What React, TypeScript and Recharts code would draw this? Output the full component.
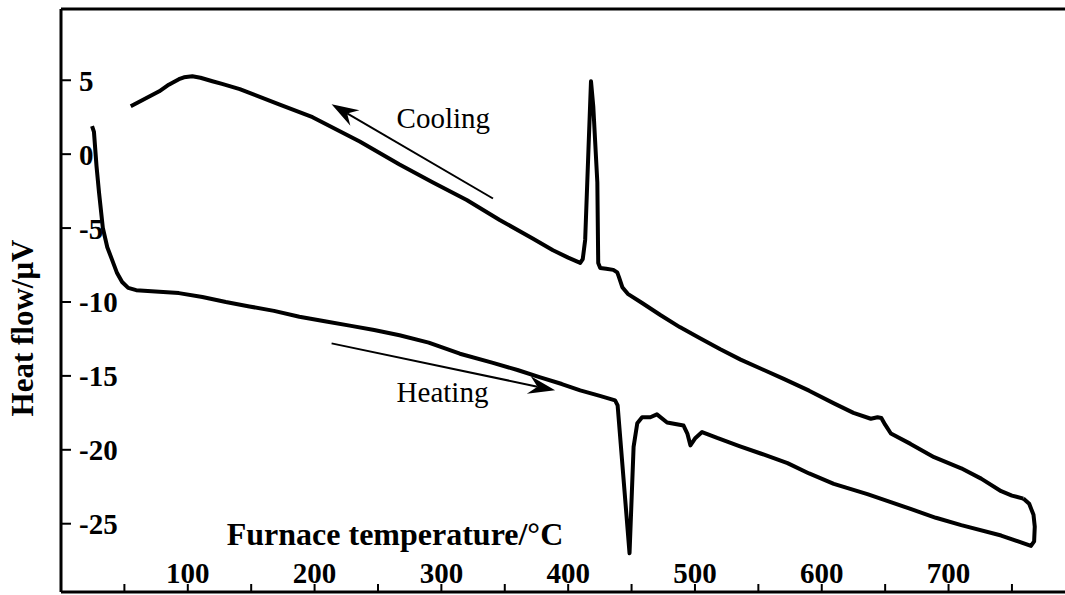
import { LineChart, Line, XAxis, YAxis, ReferenceLine, ReferenceDot, Label } from "recharts";

// heating run: [furnace temperature °C, heat flow µV]
const heating: [number, number][] = [
  [24.5, 1.9], [26, 1.5], [28, -0.8], [30, -2.6], [33, -5.0], [36.5, -6.3],
  [40.3, -7.15], [44, -8.0], [48.2, -8.65], [53, -9.05], [59.3, -9.2], [77.5, -9.3],
  [93, -9.4], [111.5, -9.66], [130, -10.0], [148.6, -10.3], [168, -10.6], [188, -11.0],
  [208, -11.3], [227.7, -11.6], [247, -11.9], [267, -12.25], [290, -12.75], [314.6, -13.5],
  [340, -14.1], [360, -14.6], [378, -15.1], [395, -15.55], [409.5, -15.98], [425, -16.35],
  [437, -16.66], [439, -17.0], [448.4, -27.0], [451.6, -19.8], [454.5, -18.2], [458.3, -17.8],
  [464.8, -17.8], [470, -17.6], [478, -18.15], [491, -18.36], [494, -18.9], [496.4, -19.7],
  [500.4, -19.2], [505.6, -18.8], [517.5, -19.2], [535, -19.75], [551.8, -20.25], [573, -20.9],
  [590, -21.6], [609.5, -22.3], [636, -23.0], [655, -23.55], [670, -24.0], [690, -24.6],
  [710, -25.1], [741.5, -25.8], [765, -26.5], [767.5, -26.2], [768, -25.2], [767, -24.4],
  [763.6, -23.65], [759, -23.3],
];

// cooling run, in the order it was recorded (hot to cold)
const cooling: [number, number][] = [
  [759, -23.3], [750, -23.1], [741.5, -22.8], [725.7, -21.95], [710, -21.25], [688.6, -20.5],
  [670, -19.6], [654.5, -18.9], [650, -18.3], [647, -17.85], [644, -17.8], [638.7, -17.9],
  [625, -17.5], [609.6, -16.86], [590, -16.0], [570, -15.2], [553, -14.55], [536, -13.9],
  [520, -13.2], [504, -12.45], [488, -11.7], [473, -10.9], [458, -10.05], [447, -9.45],
  [442.7, -9.0], [440, -8.3], [438.7, -8.0], [435.6, -7.83], [430, -7.75], [425.3, -7.7],
  [423.7, -7.36], [423, -1.9], [419.8, 3.23], [418, 4.93], [416, 0.3], [413.4, -5.8],
  [411.5, -7.1], [409.5, -7.36], [400, -7.0], [388, -6.5], [372, -5.7], [346, -4.45],
  [320, -3.1], [293, -1.9], [267, -0.7], [235.6, 0.86], [198.4, 2.5], [172, 3.37],
  [141, 4.4], [127, 4.75], [119.4, 4.93], [110, 5.17], [103.6, 5.27], [97, 5.2],
  [93, 5.07], [85, 4.7], [77.5, 4.25], [55, 3.24],
];

const xTicks = [0, 50, 100, 150, 200, 250, 300, 350, 400, 450, 500, 550, 600, 650, 700, 750];
const xLabels = [100, 200, 300, 400, 500, 600, 700];
const yTicks = [-25, -20, -15, -10, -5, 0, 5];

// annotation arrows: [tail, head]
const coolingArrow = [{ x: 340.7, y: -3.0 }, { x: 213.4, y: 3.37 }];
const heatingArrow = [{ x: 213.4, y: -12.8 }, { x: 389.7, y: -15.98 }];

const serif = '"Liberation Serif", "Times New Roman", serif';
const xDomain: [number, number] = [0, 795];
const yDomain: [number, number] = [-29.62, 9.82];

const toRows = (pts: [number, number][]) => pts.map(([t, v]) => ({ t, v }));

function Arrow(props: any) {
  const { x1, y1, x2, y2 } = props;
  const ang = Math.atan2(y2 - y1, x2 - x1);
  const c = Math.cos(ang);
  const s = Math.sin(ang);
  const pt = (a: number, b: number) => `${x2 - a * c - b * s},${y2 - a * s + b * c}`;
  return (
    <g>
      <line x1={x1} y1={y1} x2={x2 - 18 * c} y2={y2 - 18 * s} stroke="#000" strokeWidth={2} />
      <polygon points={`${x2},${y2} ${pt(27, 9)} ${pt(18, 0)} ${pt(27, -9)}`} fill="#000" />
    </g>
  );
}

const word = (s: string) => (p: any) => (
  <text x={p.cx} y={p.cy} fontFamily={serif} fontSize={29} fill="#000">
    {s}
  </text>
);

function XTick(p: any) {
  const v = p.payload.value;
  if (!xLabels.includes(v)) return <g />;
  return (
    <text x={p.x} y={p.y} textAnchor="middle" fontFamily={serif} fontSize={29} fontWeight={700} fill="#000">
      {v}
    </text>
  );
}

function YTick(p: any) {
  return (
    <text x={p.x} y={p.y} dy="0.36em" textAnchor="start" fontFamily={serif} fontSize={29} fontWeight={700} fill="#000">
      {p.payload.value}
    </text>
  );
}

const axisLine = { stroke: "#000", strokeWidth: 3 };
const tickLine = { stroke: "#000", strokeWidth: 2 };

export default function App() {
  return (
    <div style={{ position: "absolute", left: 0, top: 0, background: "#fff" }}>
      <LineChart width={1065} height={595} margin={{ top: 9, right: -4, bottom: 3, left: 61 }}>
        <XAxis
          xAxisId="b"
          dataKey="t"
          type="number"
          domain={xDomain}
          ticks={xTicks}
          height={1}
          mirror
          tickSize={8}
          tickMargin={1}
          axisLine={axisLine}
          tickLine={tickLine}
          tick={XTick}
        >
          <Label
            content={(p: any) => (
              <text
                x={p.viewBox.x + 334}
                y={p.viewBox.y - 46}
                textAnchor="middle"
                fontFamily={serif}
                fontSize={32}
                fontWeight={700}
                fill="#000"
              >
                Furnace temperature/°C
              </text>
            )}
          />
        </XAxis>
        <XAxis
          xAxisId="t"
          orientation="top"
          dataKey="t"
          type="number"
          domain={xDomain}
          ticks={xTicks}
          height={1}
          mirror
          tickSize={8}
          axisLine={axisLine}
          tickLine={tickLine}
          tickFormatter={() => ""}
        />
        <YAxis
          yAxisId="l"
          type="number"
          domain={yDomain}
          ticks={yTicks}
          width={1}
          mirror
          tickSize={10}
          tickMargin={8}
          axisLine={axisLine}
          tickLine={tickLine}
          tick={YTick}
        >
          <Label
            content={(p: any) => {
              const x = p.viewBox.x - 28;
              const y = 328;
              return (
                <text
                  x={x}
                  y={y}
                  transform={`rotate(-90, ${x}, ${y})`}
                  textAnchor="middle"
                  fontFamily={serif}
                  fontSize={31}
                  fontWeight={700}
                  fill="#000"
                >
                  Heat flow/μV
                </text>
              );
            }}
          />
        </YAxis>
        <YAxis
          yAxisId="r"
          orientation="right"
          type="number"
          domain={yDomain}
          ticks={yTicks}
          width={1}
          mirror
          tickSize={10}
          axisLine={axisLine}
          tickLine={tickLine}
          tickFormatter={() => ""}
        />

        <Line
          xAxisId="b"
          yAxisId="l"
          data={toRows(heating)}
          dataKey="v"
          type="linear"
          stroke="#000"
          strokeWidth={4}
          strokeLinejoin="round"
          dot={false}
          isAnimationActive={false}
        />
        <Line
          xAxisId="b"
          yAxisId="l"
          data={toRows(cooling)}
          dataKey="v"
          type="linear"
          stroke="#000"
          strokeWidth={4}
          strokeLinejoin="round"
          dot={false}
          isAnimationActive={false}
        />

        <ReferenceLine xAxisId="b" yAxisId="l" segment={coolingArrow} shape={Arrow} />
        <ReferenceLine xAxisId="b" yAxisId="l" segment={heatingArrow} shape={Arrow} />
        <ReferenceDot xAxisId="b" yAxisId="l" x={264.7} y={1.74} shape={word("Cooling")} />
        <ReferenceDot xAxisId="b" yAxisId="l" x={264.7} y={-16.8} shape={word("Heating")} />
      </LineChart>
    </div>
  );
}
